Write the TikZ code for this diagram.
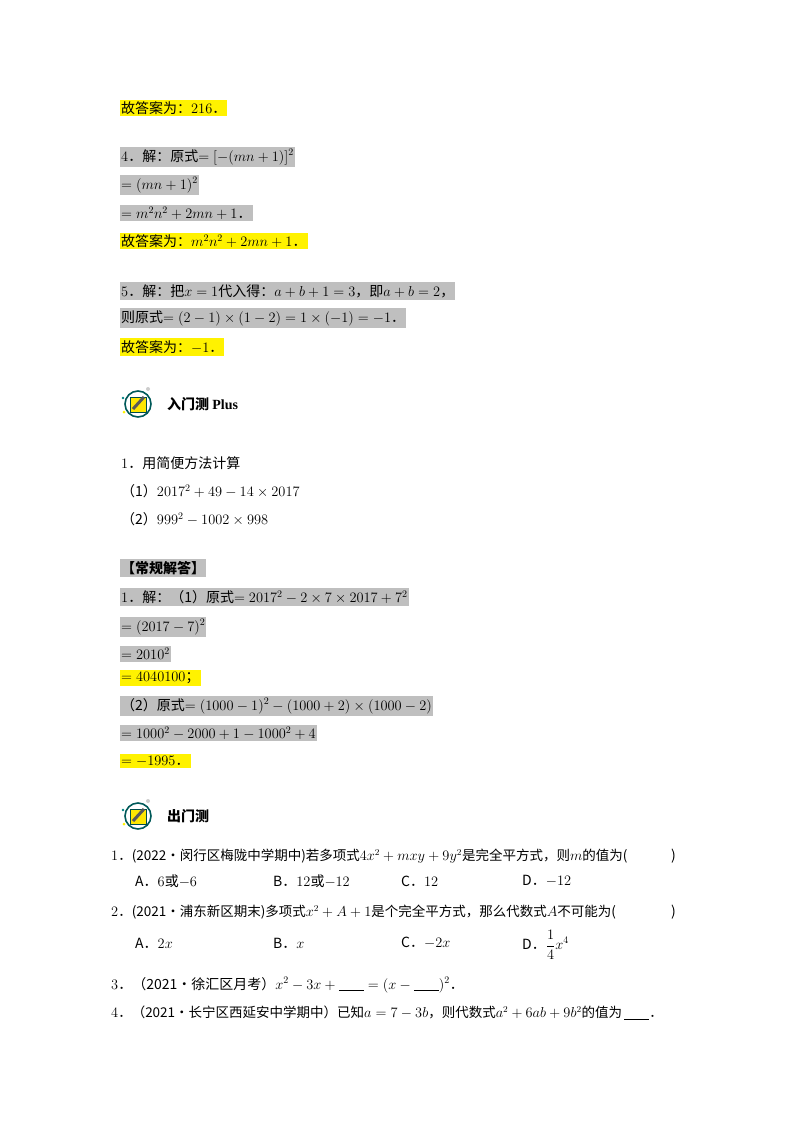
\documentclass[tikz,border=0pt]{standalone}
\usepackage{fontspec}
\setmainfont{Noto Sans CJK SC}
\newfontfamily\lat{Liberation Serif}
\begin{document}
\begin{tikzpicture}[x=1pt,y=-1pt,
 every node/.style={anchor=west,inner xsep=1pt,inner ysep=2pt,font=\fontsize{14}{16}\selectfont},
 g/.style={fill=black!25},
 yl/.style={fill=yellow},
 ic/.pic={\draw[teal!70!black,line width=1.6pt] (0,0) circle (13);
   \fill[yellow!90!orange,draw=teal!60!black] (-8,-7) rectangle (8,8);
   \draw[line width=3pt,gray!70!black] (-5,5) -- (6,-7);
   \fill[gray!40] (10,-15) circle (2); \fill[teal] (-15,-6) circle (1.3);
   \fill[yellow] (-14,8) circle (1.5);}]
\useasboundingbox (0,0) rectangle (800,1132);
\node[yl] (a1) at (120,108) {故答案为：$216$．};
\node[g] (a2) at (120,157) {$4$．解：原式$=[-(mn+1)]^2$};
\node[g] (a3) at (120,185) {$=(mn+1)^2$};
\node[g] (a4) at (120,213) {$=m^2n^2+2mn+1$．};
\node[yl] (a5) at (120,241) {故答案为：$m^2n^2+2mn+1$．};
\node[g] (b1) at (120,291) {$5$．解：把$x=1$代入得：$a+b+1=3$，即$a+b=2$，};
\node[g] (b2) at (120,318) {则原式$=(2-1)\times(1-2)=1\times(-1)=-1$．};
\node[yl] (b3) at (120,347) {故答案为：$-1$．};
\pic at (138,404) {ic};
\node[font=\fontsize{14}{16}\selectfont\bfseries] (h1) at (166,404) {入门测 {\lat\bfseries Plus}};
\node (c1) at (120,463) {$1$．用简便方法计算};
\node (c2) at (120,491) {（1）$2017^2+49-14\times2017$};
\node (c3) at (120,519) {（2）$999^2-1002\times998$};
\node[g,font=\fontsize{14}{16}\selectfont\bfseries] (d0) at (120,568) {【常规解答】};
\node[g] (d1) at (120,597) {$1$．解：（1）原式$=2017^2-2\times7\times2017+7^2$};
\node[g] (d2) at (120,627) {$=(2017-7)^2$};
\node[g] (d3) at (120,654) {$=2010^2$};
\node[yl] (d4) at (120,678) {$=4040100$；};
\node[g] (d5) at (120,706) {（2）原式$=(1000-1)^2-(1000+2)\times(1000-2)$};
\node[g] (d6) at (120,733) {$=1000^2-2000+1-1000^2+4$};
\node[yl] (d7) at (120,761) {$=-1995$．};
\pic at (138,816) {ic};
\node[font=\fontsize{14}{16}\selectfont\bfseries] (h2) at (166,816) {出门测};
\node[font=\fontsize{13.5}{16}\selectfont] (q1) at (110,856) {$1$．(2022•闵行区梅陇中学期中)若多项式$4x^2+mxy+9y^2$是完全平方式，则$m$的值为(};
\node (q1r) at (670,856) {)};
\node (o1a) at (134,881) {A．$6$或$-6$};
\node (o1b) at (272,881) {B．$12$或$-12$};
\node (o1c) at (400,881) {C．$12$};
\node (o1d) at (521,881) {D．$-12$};
\node[font=\fontsize{13.5}{16}\selectfont] (q2) at (110,912) {$2$．(2021•浦东新区期末)多项式$x^2+A+1$是个完全平方式，那么代数式$A$不可能为(};
\node (q2r) at (670,912) {)};
\node (o2a) at (134,943) {A．$2x$};
\node (o2b) at (272,943) {B．$x$};
\node (o2c) at (400,943) {C．$-2x$};
\node[inner ysep=0pt] (o2d) at (521,945) {D．$\displaystyle\frac14x^4$};
\node (q3) at (110,985) {$3$．（2021•徐汇区月考）$x^2-3x+\underline{\hspace{25pt}}=(x-\underline{\hspace{25pt}})^2$．};
\node[font=\fontsize{13.5}{16}\selectfont] (q4) at (110,1013) {$4$．（2021•长宁区西延安中学期中）已知$a=7-3b$，则代数式$a^2+6ab+9b^2$的值为\,\underline{\hspace{25pt}}．};
\end{tikzpicture}
\end{document}
